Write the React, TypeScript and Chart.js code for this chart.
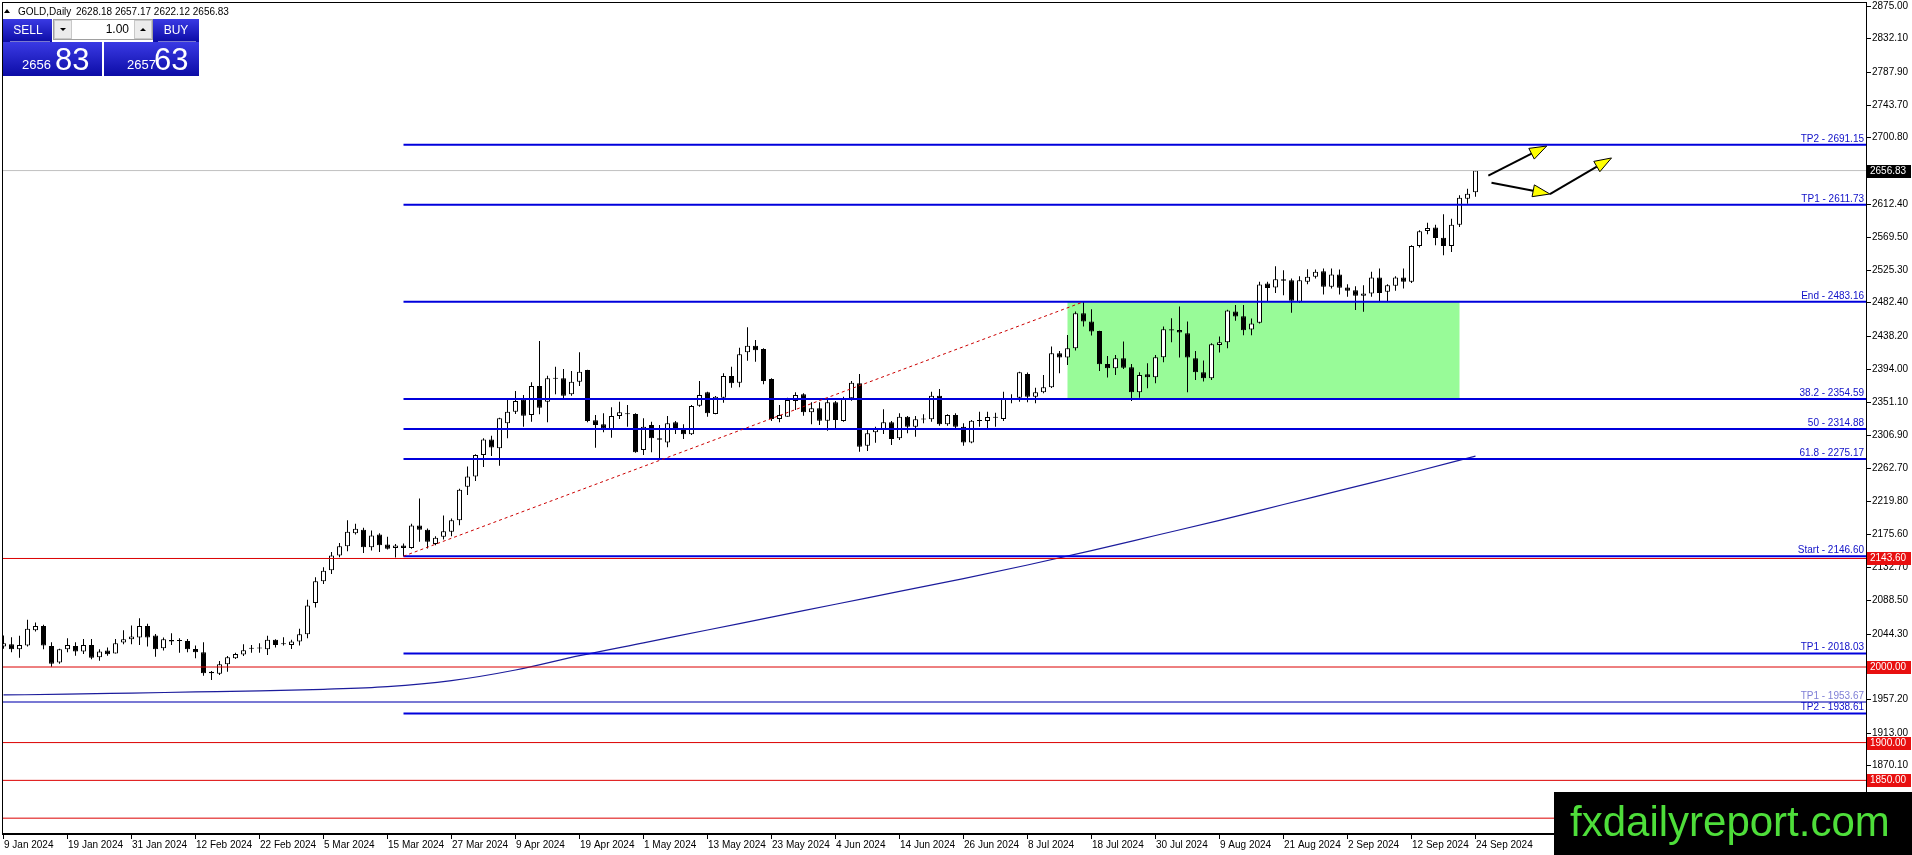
import React, { useEffect, useRef } from "react";
import { Chart, registerables } from "chart.js";

Chart.register(...registerables);

const W = 1912;
const H = 855;
const PLOT_LEFT = 2;
const PLOT_TOP = 2;
const PLOT_RIGHT = 1866;
const PLOT_BOTTOM = 833;
const BAR_PX = 8;
const X_MIN = -0.1875;
const X_MAX = X_MIN + (PLOT_RIGHT - PLOT_LEFT) / BAR_PX;
const Y_MAX = 2879.86;
const Y_MIN = 1780.37;
const FONT = '"Liberation Sans", Arial, sans-serif';

// ---- Daily candles (9 Jan 2024 .. 24 Sep 2024) ----
const opens = [
  2027.0, 2030.1, 2023.5, 2028.3, 2048.7, 2054.4, 2027.9, 2005.8, 2023.5, 2027.9,
  2020.4, 2029.2, 2012.8, 2021.7, 2017.7, 2032.3, 2036.7, 2039.0, 2054.4, 2041.6,
  2024.8, 2035.8, 2035.4, 2034.5, 2023.9, 2019.5, 1993.8, 1991.1, 2003.5, 2011.5,
  2016.4, 2024.5, 2024.8, 2023.5, 2035.9, 2030.5, 2029.2, 2033.6, 2043.4, 2084.6,
  2113.3, 2127.9, 2147.4, 2159.8, 2177.1, 2181.5, 2158.5, 2175.3, 2162.0, 2157.6,
  2160.7, 2157.6, 2187.2, 2181.5, 2162.9, 2172.2, 2178.8, 2194.3, 2238.6, 2251.9,
  2280.6, 2301.0, 2289.3, 2322.4, 2337.8, 2354.2, 2333.4, 2371.8, 2351.1, 2381.5,
  2381.9, 2360.8, 2377.5, 2393.0, 2326.4, 2321.1, 2313.6, 2332.1, 2334.5, 2334.7,
  2287.1, 2320.2, 2302.5, 2297.2, 2323.7, 2313.6, 2307.8, 2345.8, 2363.4, 2334.7,
  2356.4, 2385.0, 2376.0, 2416.4, 2425.2, 2420.8, 2381.1, 2328.1, 2331.2, 2351.9,
  2360.8, 2336.9, 2342.2, 2325.9, 2350.2, 2325.5, 2355.5, 2375.3, 2292.8, 2310.5,
  2314.9, 2323.7, 2302.5, 2331.2, 2318.0, 2327.5, 2327.7, 2359.0, 2321.1, 2333.4,
  2318.0, 2297.2, 2325.9, 2325.5, 2330.3, 2328.1, 2354.8, 2356.4, 2387.7, 2357.7,
  2363.4, 2370.1, 2415.1, 2409.4, 2421.7, 2468.1, 2457.1, 2444.7, 2401.0, 2395.2,
  2408.5, 2396.6, 2363.4, 2387.3, 2383.3, 2409.8, 2446.9, 2446.0, 2441.6, 2408.5,
  2389.9, 2382.0, 2426.2, 2429.7, 2470.3, 2464.2, 2446.6, 2455.4, 2507.4, 2502.1,
  2513.1, 2511.8, 2483.2, 2509.6, 2516.2, 2523.7, 2503.0, 2519.3, 2502.1, 2498.6,
  2491.1, 2494.2, 2515.3, 2496.4, 2504.3, 2515.3, 2509.6, 2557.1, 2576.9, 2581.4,
  2568.1, 2557.1, 2585.3, 2619.7, 2628.18,
];
const highs = [
  2041.6, 2039.4, 2041.2, 2062.4, 2058.9, 2055.8, 2032.8, 2024.0, 2038.1, 2032.8,
  2037.2, 2037.2, 2023.5, 2025.7, 2037.2, 2048.7, 2054.9, 2064.6, 2057.1, 2043.8,
  2039.0, 2044.7, 2038.1, 2037.2, 2028.3, 2032.8, 1994.7, 2008.0, 2014.6, 2019.0,
  2030.1, 2029.2, 2031.4, 2041.2, 2036.7, 2039.4, 2035.9, 2050.5, 2089.0, 2118.6,
  2131.9, 2152.3, 2164.2, 2194.3, 2189.5, 2184.2, 2180.6, 2177.1, 2172.2, 2162.9,
  2163.3, 2189.5, 2223.1, 2183.3, 2173.1, 2200.5, 2196.5, 2235.9, 2265.2, 2281.5,
  2302.8, 2305.9, 2329.9, 2353.3, 2365.2, 2359.9, 2376.7, 2431.4, 2385.5, 2397.4,
  2394.3, 2391.7, 2416.4, 2393.4, 2333.4, 2335.6, 2343.6, 2351.1, 2346.6, 2335.6,
  2329.0, 2324.6, 2320.2, 2332.1, 2325.5, 2321.1, 2346.6, 2378.4, 2364.3, 2358.6,
  2388.6, 2397.4, 2422.5, 2449.5, 2432.7, 2421.7, 2382.0, 2346.6, 2356.4, 2363.4,
  2362.1, 2350.2, 2350.2, 2354.2, 2351.9, 2357.7, 2378.4, 2387.7, 2314.4, 2318.0,
  2340.9, 2325.5, 2335.6, 2332.1, 2332.1, 2334.3, 2364.3, 2367.8, 2334.3, 2335.6,
  2322.4, 2326.8, 2337.8, 2337.8, 2336.5, 2364.3, 2360.8, 2390.8, 2389.5, 2369.6,
  2386.4, 2423.9, 2418.2, 2439.4, 2470.3, 2483.16, 2473.4, 2444.9, 2411.6, 2412.9,
  2430.6, 2401.0, 2389.9, 2401.9, 2412.9, 2450.5, 2461.5, 2477.0, 2457.1, 2418.2,
  2405.4, 2428.4, 2437.2, 2472.6, 2478.8, 2478.8, 2461.1, 2509.6, 2509.6, 2530.3,
  2525.0, 2514.0, 2517.1, 2526.3, 2525.9, 2527.2, 2527.2, 2525.9, 2506.5, 2503.9,
  2505.2, 2522.8, 2527.2, 2506.5, 2517.1, 2527.2, 2558.0, 2577.8, 2587.9, 2585.3,
  2598.9, 2593.2, 2624.1, 2632.9, 2657.17,
];
const lows = [
  2024.0, 2019.5, 2012.4, 2027.0, 2046.9, 2023.5, 2000.4, 2004.4, 2019.5, 2015.0,
  2017.3, 2010.2, 2008.4, 2015.0, 2017.7, 2030.1, 2030.1, 2029.2, 2027.0, 2013.7,
  2021.7, 2029.2, 2019.0, 2019.5, 2011.5, 1988.5, 1982.7, 1989.4, 1993.8, 2010.6,
  2014.6, 2019.0, 2019.0, 2015.9, 2025.7, 2028.3, 2023.9, 2028.3, 2038.1, 2078.8,
  2109.8, 2123.1, 2145.2, 2153.2, 2175.3, 2150.9, 2154.0, 2152.3, 2155.4, 2145.0,
  2146.6, 2156.3, 2165.6, 2156.7, 2161.1, 2168.7, 2173.1, 2187.7, 2227.5, 2246.1,
  2264.7, 2279.3, 2266.4, 2302.5, 2334.7, 2318.0, 2324.6, 2334.3, 2323.7, 2360.8,
  2355.5, 2359.0, 2371.8, 2323.7, 2290.2, 2310.5, 2303.4, 2328.1, 2318.0, 2283.5,
  2280.5, 2284.0, 2276.1, 2290.6, 2308.3, 2301.7, 2307.0, 2344.4, 2331.2, 2334.3,
  2349.7, 2369.6, 2370.0, 2405.3, 2404.0, 2374.0, 2325.5, 2323.7, 2331.2, 2340.0,
  2332.5, 2321.1, 2320.2, 2312.7, 2314.9, 2324.6, 2352.4, 2284.9, 2285.8, 2296.8,
  2308.3, 2293.7, 2300.3, 2309.2, 2304.7, 2322.4, 2324.6, 2319.3, 2319.3, 2315.8,
  2292.8, 2295.9, 2318.0, 2315.7, 2317.9, 2325.4, 2348.9, 2351.1, 2350.2, 2348.9,
  2362.1, 2369.0, 2388.6, 2399.7, 2418.7, 2450.5, 2438.5, 2391.7, 2382.9, 2386.4,
  2394.4, 2351.9, 2356.4, 2368.7, 2375.3, 2403.2, 2429.7, 2409.4, 2363.4, 2379.8,
  2377.6, 2379.8, 2416.0, 2421.7, 2458.0, 2439.1, 2439.1, 2454.5, 2483.2, 2495.0,
  2492.0, 2468.6, 2482.0, 2506.5, 2514.0, 2492.8, 2500.8, 2492.8, 2489.8, 2472.2,
  2469.9, 2489.8, 2483.2, 2483.0, 2497.7, 2500.8, 2508.0, 2554.9, 2572.5, 2558.0,
  2544.8, 2549.2, 2582.2, 2613.0, 2622.12,
];
const closes = [
  2031.4, 2023.5, 2029.2, 2050.5, 2054.4, 2028.3, 2004.4, 2023.5, 2029.2, 2020.4,
  2029.2, 2012.4, 2020.4, 2016.8, 2031.4, 2036.7, 2040.3, 2054.4, 2039.0, 2023.5,
  2036.7, 2033.7, 2034.5, 2023.5, 2019.5, 1991.6, 1991.6, 2003.5, 2012.8, 2017.3,
  2022.1, 2024.0, 2024.5, 2035.9, 2029.2, 2030.1, 2033.6, 2043.4, 2081.4, 2113.3,
  2127.5, 2147.4, 2159.8, 2178.8, 2182.8, 2158.5, 2174.0, 2161.1, 2156.3, 2160.7,
  2157.6, 2187.2, 2181.5, 2165.6, 2170.9, 2179.7, 2194.3, 2234.6, 2251.9, 2280.6,
  2301.0, 2290.4, 2329.0, 2337.8, 2351.9, 2332.5, 2371.8, 2343.1, 2381.9, 2382.3,
  2359.0, 2377.5, 2390.8, 2325.5, 2320.2, 2315.8, 2332.1, 2336.9, 2334.3, 2284.0,
  2318.0, 2302.5, 2300.8, 2322.4, 2313.6, 2307.8, 2345.3, 2359.9, 2335.6, 2357.7,
  2385.0, 2375.3, 2413.7, 2425.2, 2419.0, 2378.4, 2328.1, 2333.4, 2353.3, 2359.9,
  2336.9, 2342.2, 2325.9, 2350.2, 2326.8, 2355.5, 2376.2, 2291.5, 2309.2, 2314.9,
  2323.7, 2301.7, 2331.2, 2318.0, 2327.7, 2327.9, 2359.0, 2321.1, 2333.4, 2318.0,
  2297.2, 2325.9, 2325.5, 2330.8, 2329.9, 2354.6, 2354.4, 2389.9, 2357.7, 2363.4,
  2370.1, 2415.1, 2409.4, 2421.7, 2468.1, 2457.1, 2443.8, 2400.5, 2395.2, 2408.5,
  2396.1, 2363.4, 2386.4, 2383.3, 2409.8, 2446.9, 2445.2, 2442.5, 2409.4, 2389.9,
  2382.0, 2427.1, 2429.7, 2471.7, 2463.7, 2445.7, 2454.5, 2506.1, 2501.6, 2513.1,
  2510.9, 2484.5, 2511.8, 2516.2, 2522.8, 2503.0, 2519.3, 2501.7, 2497.7, 2491.1,
  2494.2, 2515.3, 2495.0, 2505.2, 2515.3, 2509.6, 2557.1, 2576.5, 2580.9, 2567.7,
  2557.1, 2585.3, 2621.0, 2626.3, 2656.83,
];

// ---- x axis labels (every 8th bar) ----
const dateLabels = [
  "9 Jan 2024", "19 Jan 2024", "31 Jan 2024", "12 Feb 2024", "22 Feb 2024", "5 Mar 2024",
  "15 Mar 2024", "27 Mar 2024", "9 Apr 2024", "19 Apr 2024", "1 May 2024", "13 May 2024",
  "23 May 2024", "4 Jun 2024", "14 Jun 2024", "26 Jun 2024", "8 Jul 2024", "18 Jul 2024",
  "30 Jul 2024", "9 Aug 2024", "21 Aug 2024", "2 Sep 2024", "12 Sep 2024", "24 Sep 2024",
];
const dateLabelBars = [
  0, 8, 16, 24, 32, 40, 48, 56, 64, 72, 80, 88, 96, 104, 112, 120, 128, 136, 144, 152, 160, 168, 176, 184,
];

// ---- price axis ticks ----
const priceTicks = [
  2875.0, 2832.1, 2787.9, 2743.7, 2700.8, 2612.4, 2569.5, 2525.3, 2482.4, 2438.2, 2394.0,
  2351.1, 2306.9, 2262.7, 2219.8, 2175.6, 2132.7, 2088.5, 2044.3, 1957.2, 1913.0, 1870.1,
];

// ---- Fibonacci / target levels ----
const fibNames = ["TP2", "TP1", "End", "38.2", "50", "61.8", "Start", "TP1", "TP2"];
const fibLevels = [2691.15, 2611.73, 2483.16, 2354.59, 2314.88, 2275.17, 2146.6, 2018.03, 1938.61];
const fibStartBar = 50;
const fibEndBar = 135;
const lavenderName = "TP1";
const lavenderLevel = 1953.67;
const redLevels = [2143.6, 2000.0, 1900.0, 1850.0, 1800.0];
const currentPrice = 2656.83;

// ---- moving average (read every 8 bars) ----
const maBars = [0, 8, 16, 24, 32, 40, 48, 56, 64, 72, 80, 88, 96, 104, 112, 120, 128, 136, 144, 152, 160, 168, 176, 184];
const maValues = [
  1963.0, 1964.0, 1965.5, 1967.0, 1968.5, 1970.5, 1974.0, 1982.0, 1996.0, 2015.0, 2032.0, 2049.0,
  2066.0, 2083.0, 2100.0, 2117.0, 2135.0, 2154.0, 2174.0, 2194.0, 2215.0, 2236.0, 2257.0, 2279.0,
];

// ---- consolidation zone ----
const zoneBars = [133, 182];
const zonePrices = [2354.59, 2483.16];

// ---- arrows ----
const arrowFromBar = [185.6, 186.0, 193.3];
const arrowFromPrice = [2650.0, 2640.8, 2625.8];
const arrowToBar = [192.9, 193.3, 201.0];
const arrowToPrice = [2689.3, 2625.8, 2673.5];

// ---- header / trade panel ----
const symbolTitle = "GOLD,Daily";
const ohlcText = "2628.18 2657.17 2622.12 2656.83";
const sellBig = "83";
const sellSmall = "2656";
const buyBig = "63";
const buySmall = "2657";
const lotText = "1.00";
const watermark = "fxdailyreport.com";

const BLUE = "#0000dc";

function hline(level: number, fromX: number, color: string, width: number) {
  return {
    type: "line" as const,
    data: [
      { x: fromX, y: level },
      { x: X_MAX, y: level },
    ],
    borderColor: color,
    borderWidth: width,
    pointRadius: 0,
    order: 3,
  };
}

function drawArrow(ctx: CanvasRenderingContext2D, x1: number, y1: number, x2: number, y2: number) {
  const ang = Math.atan2(y2 - y1, x2 - x1);
  const headLen = 17;
  const headW = 6;
  const bx = x2 - headLen * Math.cos(ang);
  const by = y2 - headLen * Math.sin(ang);
  ctx.save();
  ctx.strokeStyle = "#000";
  ctx.lineWidth = 2;
  ctx.beginPath();
  ctx.moveTo(x1, y1);
  ctx.lineTo(bx, by);
  ctx.stroke();
  ctx.beginPath();
  ctx.moveTo(x2, y2);
  ctx.lineTo(bx + headW * Math.sin(ang), by - headW * Math.cos(ang));
  ctx.lineTo(bx - headW * Math.sin(ang), by + headW * Math.cos(ang));
  ctx.closePath();
  ctx.fillStyle = "#ffff00";
  ctx.fill();
  ctx.lineWidth = 1;
  ctx.stroke();
  ctx.restore();
}

function blueGrad(ctx: CanvasRenderingContext2D, y0: number, y1: number) {
  const g = ctx.createLinearGradient(0, y0, 0, y1);
  g.addColorStop(0, "#3a3ae4");
  g.addColorStop(1, "#0c0ca6");
  return g;
}

const mt4Plugin = {
  id: "mt4",
  beforeDraw(chart: any) {
    const ctx = chart.ctx as CanvasRenderingContext2D;
    ctx.save();
    ctx.fillStyle = "#ffffff";
    ctx.fillRect(0, 0, W, H);
    ctx.restore();
  },
  beforeDatasetsDraw(chart: any) {
    const ctx = chart.ctx as CanvasRenderingContext2D;
    const xs = chart.scales.x;
    const ys = chart.scales.y;
    const x1 = xs.getPixelForValue(zoneBars[0]);
    const x2 = xs.getPixelForValue(zoneBars[1]);
    const yTop = ys.getPixelForValue(zonePrices[1]);
    const yBot = ys.getPixelForValue(zonePrices[0]);
    ctx.save();
    ctx.fillStyle = "#98fb98";
    ctx.fillRect(x1, yTop, x2 - x1, yBot - yTop);
    ctx.restore();
  },
  afterDraw(chart: any) {
    const ctx = chart.ctx as CanvasRenderingContext2D;
    const xs = chart.scales.x;
    const ys = chart.scales.y;
    ctx.save();

    // arrows
    for (let k = 0; k < arrowFromBar.length; k++) {
      drawArrow(
        ctx,
        xs.getPixelForValue(arrowFromBar[k]),
        ys.getPixelForValue(arrowFromPrice[k]),
        xs.getPixelForValue(arrowToBar[k]),
        ys.getPixelForValue(arrowToPrice[k])
      );
    }

    // fib labels
    ctx.font = `10px ${FONT}`;
    ctx.textAlign = "right";
    ctx.textBaseline = "alphabetic";
    for (let k = 0; k < fibLevels.length; k++) {
      const y = ys.getPixelForValue(fibLevels[k]);
      ctx.fillStyle = "#1010c8";
      ctx.fillText(`${fibNames[k]} - ${fibLevels[k].toFixed(2)}`, PLOT_RIGHT - 2, y - 3);
    }
    {
      const y = ys.getPixelForValue(lavenderLevel);
      ctx.fillStyle = "#7f7fd6";
      ctx.fillText(`${lavenderName} - ${lavenderLevel.toFixed(2)}`, PLOT_RIGHT - 2, y - 3);
    }

    // frame
    ctx.fillStyle = "#000";
    ctx.fillRect(PLOT_LEFT, PLOT_TOP, PLOT_RIGHT - PLOT_LEFT + 1, 1);
    ctx.fillRect(PLOT_LEFT, PLOT_TOP, 1, PLOT_BOTTOM - PLOT_TOP);
    ctx.fillRect(PLOT_RIGHT, PLOT_TOP, 1, PLOT_BOTTOM - PLOT_TOP + 2);
    ctx.fillRect(PLOT_LEFT, PLOT_BOTTOM, PLOT_RIGHT - PLOT_LEFT + 1, 2);

    // price axis
    ctx.textAlign = "left";
    ctx.textBaseline = "middle";
    ctx.font = `10px ${FONT}`;
    for (const v of priceTicks) {
      const y = Math.round(ys.getPixelForValue(v));
      ctx.fillStyle = "#000";
      ctx.fillRect(PLOT_RIGHT + 1, y, 4, 1);
      ctx.fillText(v.toFixed(2), PLOT_RIGHT + 6, y + 0.5);
    }
    // price boxes
    const box = (v: number, bg: string) => {
      const y = Math.round(ys.getPixelForValue(v));
      ctx.fillStyle = bg;
      ctx.fillRect(PLOT_RIGHT + 1, y - 6, W - PLOT_RIGHT - 2, 13);
      ctx.fillStyle = "#fff";
      ctx.fillText(v.toFixed(2), PLOT_RIGHT + 4, y + 0.5);
    };
    box(currentPrice, "#000");
    for (const v of redLevels) box(v, "#e81010");

    // time axis
    ctx.textBaseline = "alphabetic";
    for (let k = 0; k < dateLabels.length; k++) {
      const x = Math.round(xs.getPixelForValue(dateLabelBars[k]) - 0.5);
      ctx.fillStyle = "#000";
      ctx.fillRect(x, PLOT_BOTTOM + 2, 1, 4);
      ctx.fillText(dateLabels[k], x + 1, PLOT_BOTTOM + 15);
    }

    // header
    ctx.fillStyle = "#000";
    ctx.beginPath();
    ctx.moveTo(4, 13);
    ctx.lineTo(10, 13);
    ctx.lineTo(7, 9);
    ctx.closePath();
    ctx.fill();
    ctx.font = `10px ${FONT}`;
    ctx.fillText(symbolTitle, 18, 15);
    ctx.fillText(ohlcText, 76, 15);

    // one-click trading panel
    ctx.fillStyle = blueGrad(ctx, 19, 42);
    ctx.fillRect(3, 19, 49, 23);
    ctx.fillRect(153, 19, 46, 23);
    ctx.fillStyle = blueGrad(ctx, 42, 76);
    ctx.fillRect(3, 42, 99, 34);
    ctx.fillRect(104, 42, 95, 34);
    ctx.fillStyle = "rgba(255,255,255,0.45)";
    ctx.fillRect(10, 41, 40, 1);
    ctx.fillRect(158, 41, 38, 1);
    // lot box
    ctx.fillStyle = "#fff";
    ctx.fillRect(53, 19, 100, 21);
    ctx.strokeStyle = "#a0a0a0";
    ctx.lineWidth = 1;
    ctx.strokeRect(53.5, 19.5, 99, 20);
    ctx.fillStyle = "#ececec";
    ctx.fillRect(54, 20, 18, 19);
    ctx.fillRect(134, 20, 18, 19);
    ctx.strokeStyle = "#c8c8c8";
    ctx.strokeRect(54.5, 20.5, 17, 18);
    ctx.strokeRect(134.5, 20.5, 17, 18);
    ctx.fillStyle = "#000";
    ctx.beginPath();
    ctx.moveTo(60, 28);
    ctx.lineTo(66, 28);
    ctx.lineTo(63, 31);
    ctx.closePath();
    ctx.fill();
    ctx.beginPath();
    ctx.moveTo(140, 31);
    ctx.lineTo(146, 31);
    ctx.lineTo(143, 28);
    ctx.closePath();
    ctx.fill();
    ctx.font = `12px ${FONT}`;
    ctx.textAlign = "right";
    ctx.textBaseline = "middle";
    ctx.fillText(lotText, 129, 30);
    ctx.fillStyle = "#fff";
    ctx.textAlign = "center";
    ctx.fillText("SELL", 28, 31);
    ctx.fillText("BUY", 176, 31);
    ctx.textAlign = "left";
    ctx.textBaseline = "alphabetic";
    ctx.font = `13px ${FONT}`;
    ctx.fillText(sellSmall, 22, 69);
    ctx.fillText(buySmall, 127, 69);
    ctx.font = `31px ${FONT}`;
    ctx.fillText(sellBig, 55, 70);
    ctx.fillText(buyBig, 154, 70);

    // watermark
    ctx.fillStyle = "#000";
    ctx.fillRect(1554, 792, W - 1554, H - 792);
    ctx.fillStyle = "#4ede3a";
    ctx.font = `42px ${FONT}`;
    ctx.textAlign = "left";
    ctx.fillText(watermark, 1570, 836);

    ctx.restore();
  },
};

export default function App() {
  const ref = useRef<HTMLCanvasElement>(null);
  useEffect(() => {
    const canvas = ref.current;
    if (!canvas) return;
    const idx = closes.map((_, i) => i);
    const chart = new Chart(canvas, {
      type: "bar",
      data: {
        datasets: [
          // horizontal levels (drawn above candles)
          hline(currentPrice, X_MIN, "#c0c0c0", 1),
          ...redLevels.map((v) => hline(v, X_MIN, "#dc0000", 1)),
          hline(lavenderLevel, X_MIN, "#7878d4", 2),
          ...fibLevels.map((v) => hline(v, fibStartBar, BLUE, 2)),
          {
            type: "line" as const,
            data: [
              { x: fibStartBar, y: fibLevels[6] },
              { x: fibEndBar, y: fibLevels[2] },
            ],
            borderColor: "#cc0000",
            borderWidth: 1,
            borderDash: [3, 3],
            pointRadius: 0,
            order: 2,
          },
          {
            type: "line" as const,
            data: maBars.map((b, k) => ({ x: b, y: maValues[k] })),
            borderColor: "#1c1c9c",
            borderWidth: 1.2,
            pointRadius: 0,
            cubicInterpolationMode: "monotone" as const,
            order: 4,
          },
          {
            type: "bar" as const,
            data: idx.map((i) => ({ x: i, y: [opens[i], closes[i]] })) as any,
            backgroundColor: idx.map((i) => (closes[i] >= opens[i] ? "#ffffff" : "#000000")),
            borderColor: "#000000",
            borderWidth: 1,
            borderSkipped: false,
            barThickness: 5,
            minBarLength: 1,
            grouped: false,
            inflateAmount: 0,
            order: 9,
          } as any,
          {
            type: "bar" as const,
            data: idx.map((i) => ({ x: i, y: [lows[i], highs[i]] })) as any,
            backgroundColor: "#000000",
            borderWidth: 0,
            barThickness: 1,
            grouped: false,
            inflateAmount: 0,
            order: 10,
          } as any,
        ] as any,
      },
      options: {
        responsive: false,
        maintainAspectRatio: false,
        animation: false,
        devicePixelRatio: 1,
        events: [],
        layout: {
          padding: {
            left: PLOT_LEFT,
            top: PLOT_TOP,
            right: W - PLOT_RIGHT,
            bottom: H - PLOT_BOTTOM,
          },
        },
        plugins: {
          legend: { display: false },
          tooltip: { enabled: false },
        },
        scales: {
          x: { type: "linear", min: X_MIN, max: X_MAX, display: false, offset: false },
          y: { type: "linear", min: Y_MIN, max: Y_MAX, display: false },
        },
      } as any,
      plugins: [mt4Plugin],
    });
    return () => chart.destroy();
  }, []);
  return (
    <div style={{ position: "fixed", left: 0, top: 0, width: W, height: H, background: "#fff" }}>
      <canvas ref={ref} width={W} height={H} style={{ width: W, height: H, display: "block" }} />
    </div>
  );
}
